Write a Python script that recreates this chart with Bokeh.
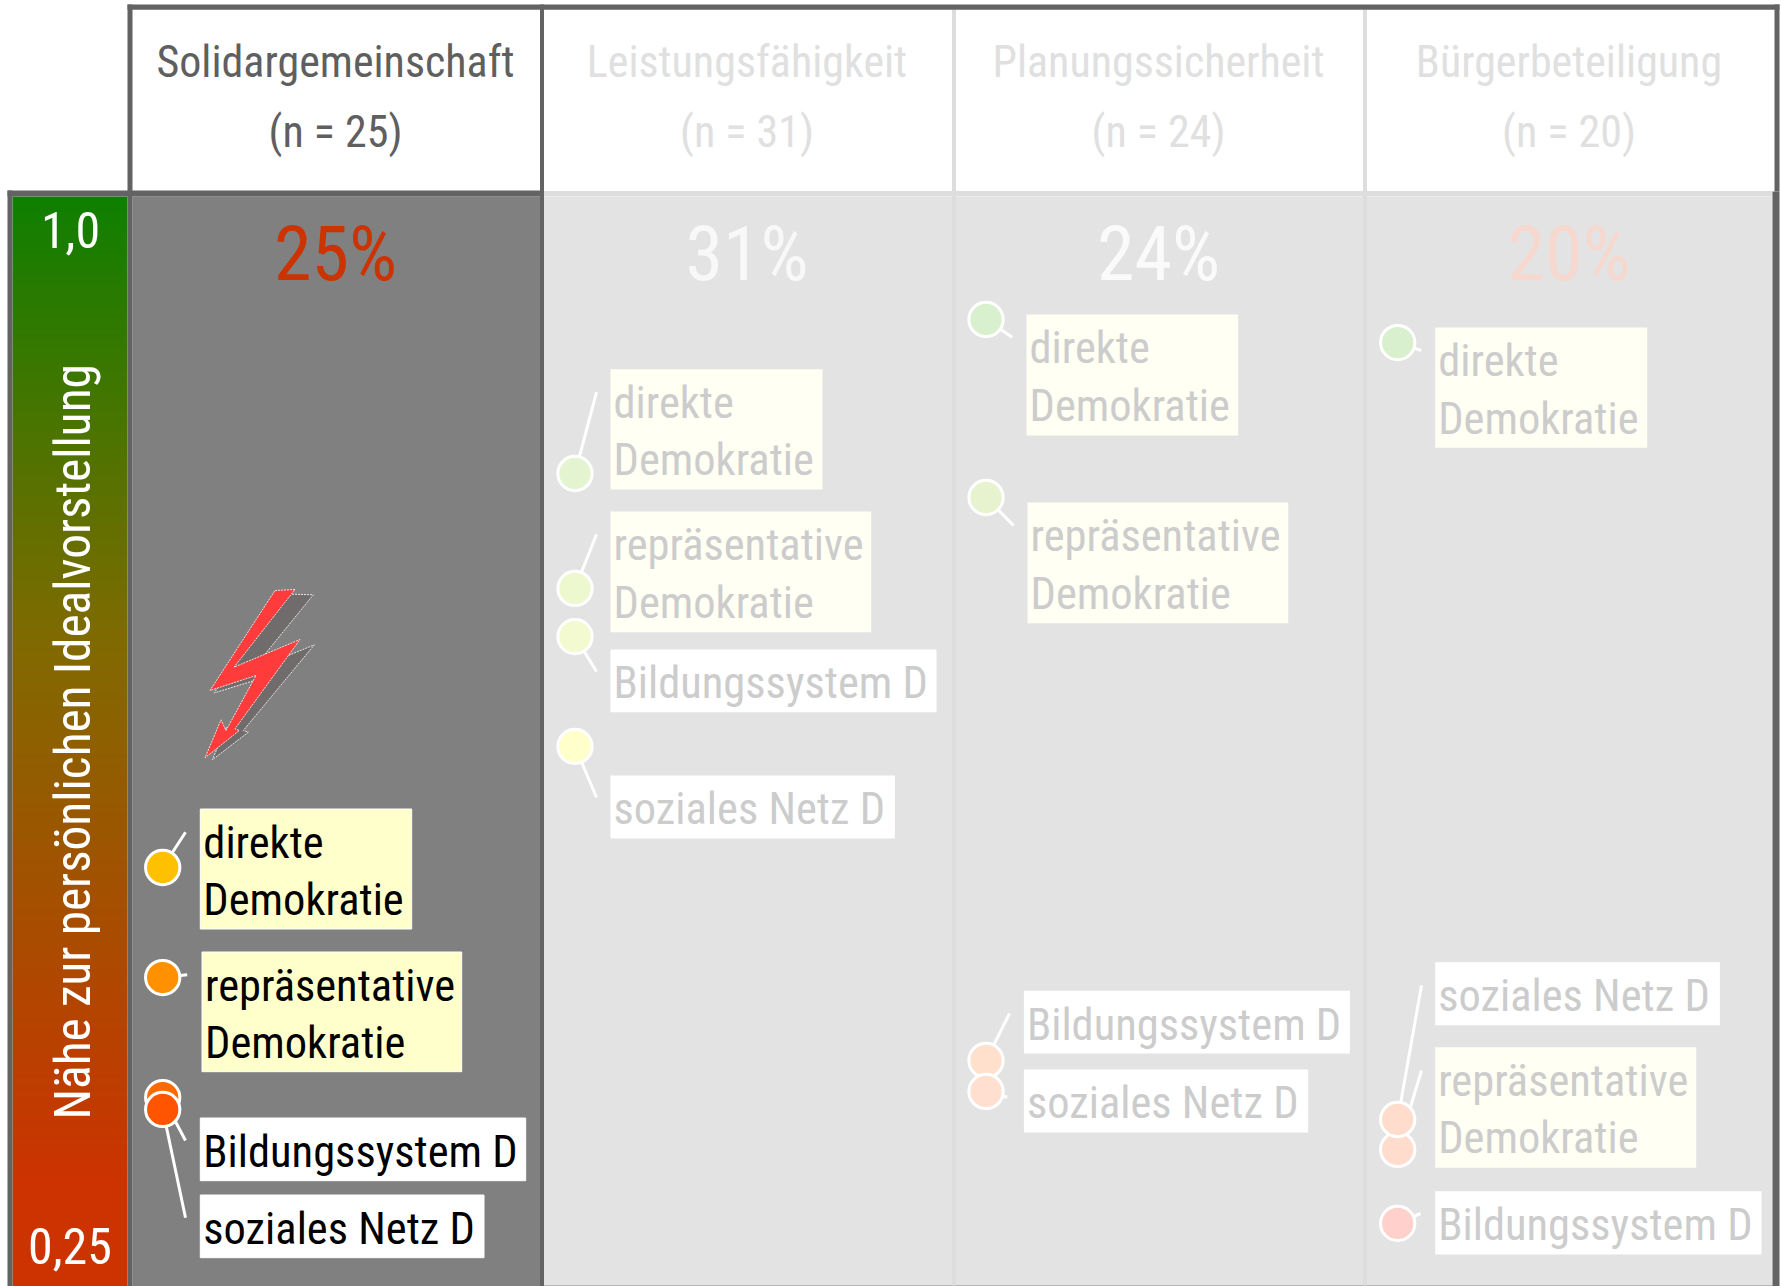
from bokeh.plotting import figure
from bokeh.models import Range1d, LinearColorMapper
from bokeh.core.properties import value
from bokeh.embed import file_html
from bokeh.resources import INLINE
import numpy as np

W, H = 1781, 1286
FONT = value("Roboto Condensed")

# ---------- data ----------
scale_top, scale_bottom = 1.0, 0.25
scale_labels = ["1,0", "0,25"]
scale_title = "Nähe zur persönlichen Idealvorstellung"
columns = ["Solidargemeinschaft", "Leistungsfähigkeit", "Planungssicherheit", "Bürgerbeteiligung"]
counts = ["(n = 25)", "(n = 31)", "(n = 24)", "(n = 20)"]
shares = ["25%", "31%", "24%", "20%"]
items = ["direkte\nDemokratie", "repräsentative\nDemokratie", "Bildungssystem D", "soziales Netz D"]
values_solidar = [0.5383, 0.4626, 0.3800, 0.3718]
values_leistung = [0.8094, 0.7303, 0.6972, 0.6216]
values_planung = [0.9154, 0.7929, 0.4055, 0.3842]
values_buerger = [0.8995, 0.3443, 0.2934, 0.3649]
all_values = [values_solidar, values_leistung, values_planung, values_buerger]

# ---------- styles / layout (page pixels) ----------
dot_colors = [
    ["#FFC000", "#FF9000", "#FF6A00", "#FF5500"],
    ["#E4F4D0", "#EEF8CF", "#F4FACF", "#FFFFCC"],
    ["#D9F0CF", "#E6F3CE", "#FFE0CC", "#FFDFD0"],
    ["#D9F0CF", "#FFDCCC", "#FFD0CC", "#FFDCCC"],
]
dot_x = [162.2, 574.5, 985.5, 1397.2]
leader_ends = [
    [(185, 831.7), (186.7, 974.3), (185, 1140), (185, 1217.3)],
    [(596, 391.7), (596, 534), (596, 671), (596, 797)],
    [(1011.7, 336.7), (1013, 525), (1009, 1013), (1006.7, 1096.7)],
    [(1420.7, 350), (1421, 1070), (1420, 1213), (1421, 985)],
]
boxes = [
    [(199.8, 411.2, 808.5, 928.5), (201.5, 461.2, 951.5, 1071.2), (199.8, 525.2, 1117.5, 1180.2), (199.8, 483.5, 1194.5, 1257.2)],
    [(610, 822, 368.7, 489), (610, 870.7, 511, 631.7), (610, 936, 649, 711.7), (610, 894.4, 775, 838)],
    [(1026, 1237.7, 314, 435), (1027, 1287.7, 502, 622.7), (1023.4, 1349.4, 990.3, 1053), (1023.4, 1307.7, 1069, 1132)],
    [(1434.7, 1646.7, 327, 447.3), (1434.7, 1695.7, 1046.7, 1167.3), (1434.7, 1761, 1190.7, 1254), (1434.7, 1719.4, 961.7, 1024.7)],
]
col_centers = [335, 746.5, 1158, 1568.5]
head_colors = ["#5F5F5F", "#E0E0E0", "#E0E0E0", "#E0E0E0"]
share_colors = ["#CC3300", "#F8F8F8", "#FAFAFA", "#F6D8CE"]
DARK, LIGHT = "#636363", "#DDDDDD"
FS_LABEL, FS_HEAD, FS_SHARE, FS_SCALE, FS_TITLE = 44.5, 44, 76, 50, 49.3
BASE_SHIFT = 0.365   # the drawn baseline sits this many em below the requested one

k = (H - 196) / (scale_top - scale_bottom)
def Y(px):
    return scale_top - (px - 196) / k

p = figure(width=W, height=H, output_backend="svg", toolbar_location=None,
           x_range=Range1d(0, W), y_range=Range1d(scale_bottom, Y(0)), min_border=0)
p.axis.visible = False
p.grid.visible = False
p.outline_line_color = None
p.background_fill_color = "white"
p.border_fill_color = "white"

def rect(x0, x1, y0, y1, color):
    p.quad(left=x0, right=x1, top=Y(y0), bottom=Y(y1), fill_color=color, line_color=None)

def label(x, y, text, color, size, align="left", angle=0.0):
    if angle:
        x = x - BASE_SHIFT * size
    else:
        y = y - BASE_SHIFT * size
    p.text(x=[x], y=[Y(y)], text=[text], text_color=color, text_font=FONT, text_font_size=f"{size}px",
           text_align=align, text_baseline="alphabetic", angle=angle)

# panels
rect(132, 539.5, 196, H, "#808080")
rect(543.5, 1772, 196, 1285, "#E3E3E3")
rect(543.5, 1772, 1285, H, "#7A7A7A")
# colour scale
stops_px = [196, 640, 1180]
stops_rgb = [(15, 127, 0), (128, 106, 0), (204, 51, 0)]
ramp = np.linspace(H, 196, 512)
palette = ["#%02X%02X%02X" % tuple(int(round(np.interp(r, stops_px, [c[i] for c in stops_rgb]))) for i in range(3))
           for r in ramp]
mapper = LinearColorMapper(palette=palette, low=scale_bottom, high=scale_top)
p.image(image=[np.linspace(scale_bottom, scale_top, 512).reshape(512, 1)], x=12, y=scale_bottom,
        dw=115, dh=scale_top - scale_bottom, color_mapper=mapper)
# light frame
rect(543.5, 1772, 190.6, 195.7, LIGHT)
rect(951.5, 955.5, 9, 1285, LIGHT)
rect(1362.5, 1366.5, 9, 1285, LIGHT)
# dark frame
rect(127, 1779, 4, 9.3, DARK)
rect(7, 12, 190, H, DARK)
rect(7, 543.5, 190, 196, DARK)
rect(127, 132, 4, H, DARK)
rect(539.5, 543.5, 4, H, DARK)
rect(1774, 1779, 4, 191, DARK)
rect(1772, 1779, 191, H, DARK)

# headers
for cx, name, n, share, hc, sc in zip(col_centers, columns, counts, shares, head_colors, share_colors):
    label(cx, 78, name, hc, FS_HEAD, "center")
    label(cx, 147.5, n, hc, FS_HEAD, "center")
    label(cx, 281, share, sc, FS_SHARE, "center")

# scale labels
label(70, 248, scale_labels[0], "white", FS_SCALE, "center")
label(69.5, 1264, scale_labels[1], "white", FS_SCALE, "center")
label(90, 1119, scale_title, "white", FS_TITLE, "left", np.pi / 2)

# lightning bolt
zx = lambda v: 119.5 + v / 3
zy = lambda v: 560 + v / 3
shadow = [(480, 100), (580, 103), (395, 330), (583, 253), (370, 510), (385, 515), (277, 598), (318, 500), (330, 520), (420, 355), (283, 397)]
bolt = [(465, 90), (525, 87), (342, 320), (540, 237), (345, 505), (358, 510), (255, 592), (303, 478), (318, 510), (408, 345), (270, 390)]
p.patch([zx(a) for a, _ in shadow], [Y(zy(b)) for _, b in shadow], fill_color="#716C6C", line_color="#E8E8E8", line_width=1, line_dash="2 1")
p.patch([zx(a) for a, _ in bolt], [Y(zy(b)) for _, b in bolt], fill_color="#FF3B3B", line_color="#F0E0E0", line_width=1, line_dash="2 1")

# leaders, dots, boxes
for c in range(4):
    vals = all_values[c]
    for i in range(4):
        ex, ey = leader_ends[c][i]
        p.line([dot_x[c], ex], [vals[i], Y(ey)], line_color="white", line_width=3)
    order = [0, 1, 2, 3] if c != 3 else [0, 2, 1, 3]
    for i in order:
        p.scatter([dot_x[c]], [vals[i]], size=34.3, marker="circle", fill_color=dot_colors[c][i],
                  line_color="white", line_width=3)
    for i in range(4):
        x0, x1, y0, y1 = boxes[c][i]
        faded = c > 0
        if "\n" in items[i]:
            fill = "#FFFFF3" if faded else "#FFFFCC"
        else:
            fill = "white"
        p.quad(left=x0, right=x1, top=Y(y0), bottom=Y(y1), fill_color=fill,
               line_color=None if faded else "white", line_width=1)
        tc = "#CCCCCC" if faded else "black"
        for j, part in enumerate(items[i].split("\n")):
            label(x0 + 3, y0 + 50 + j * 57.5, part, tc, FS_LABEL)

open("out.html", "w").write(file_html(p, INLINE))
